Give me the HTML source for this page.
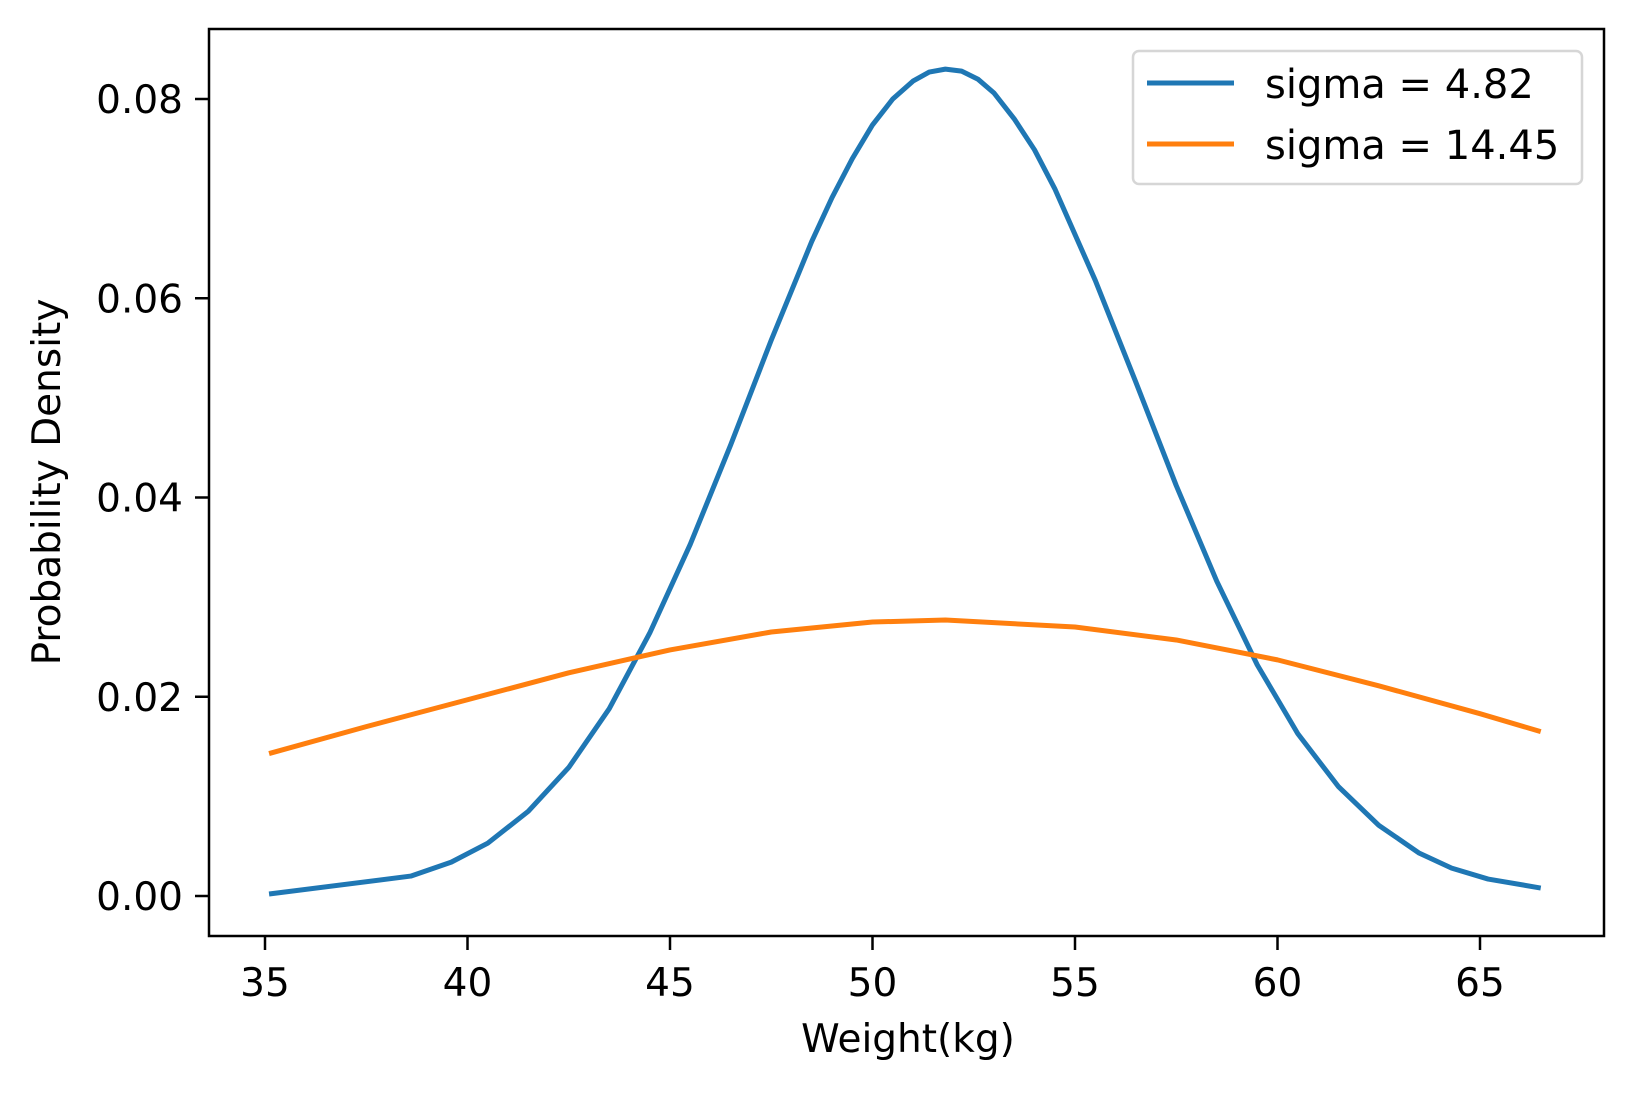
<!DOCTYPE html>
<html><head><meta charset="utf-8"><style>
html,body{margin:0;padding:0;background:#fff}
svg text{font-family:"DejaVu Sans","Liberation Sans",sans-serif;fill:#000}
</style></head><body>
<svg id="chart" width="1633" height="1091" viewBox="0 0 1633 1091" xmlns="http://www.w3.org/2000/svg">
<rect width="1633" height="1091" fill="#fff"/>
<g id="plot"></g>
<rect x="209" y="29" width="1395" height="907" fill="none" stroke="#000" stroke-width="2.5"/>
<g id="ticks"></g>
<text x="908" y="1052" font-size="39" text-anchor="middle">Weight(kg)</text>
<text x="60" y="482" font-size="39" text-anchor="middle" transform="rotate(-90 60 482)">Probability Density</text>
<g>
<rect x="1133" y="51" width="449" height="133" rx="6" fill="#fff" fill-opacity="0.8" stroke="#d6d6d6" stroke-width="2.5"/>
<line x1="1147" y1="83" x2="1234" y2="83" stroke="#1f77b4" stroke-width="5"/>
<text x="1265" y="98" font-size="40">sigma = 4.82</text>
<line x1="1147" y1="144" x2="1234" y2="144" stroke="#ff7f0e" stroke-width="5"/>
<text x="1265" y="159" font-size="40">sigma = 14.45</text>
</g>
</svg>
<script>
const blueX=[35.1,38.6,39.6,40.5,41.5,42.5,43.5,44.5,45.5,46.5,47.5,48.5,49.0,49.5,50.0,50.5,51.0,51.4,51.8,52.2,52.6,53.0,53.5,54.0,54.5,55.5,56.5,57.5,58.5,59.5,60.5,61.5,62.5,63.5,64.3,65.2,66.5];
const blueY=[0.0002,0.002,0.0034,0.0053,0.0085,0.0129,0.0188,0.0264,0.0353,0.0453,0.0558,0.0657,0.0701,0.0740,0.0774,0.0800,0.0818,0.0827,0.0830,0.0828,0.0820,0.0806,0.0780,0.0749,0.0710,0.0618,0.0516,0.0412,0.0316,0.0232,0.0163,0.0110,0.0071,0.0043,0.0028,0.0017,0.0008];
const orangeX=[35.1,37.5,40,42.5,45,47.5,50,51.8,55,57.5,60,62.5,65,66.5];
const orangeY=[0.0143,0.017,0.0197,0.0224,0.0247,0.0265,0.0275,0.0277,0.0270,0.0257,0.0237,0.0211,0.0183,0.0165];
const xTicks=[35,40,45,50,55,60,65];
const yTicks=[0,0.02,0.04,0.06,0.08];
const yTickLabels=["0.00","0.02","0.04","0.06","0.08"];
const NS="http://www.w3.org/2000/svg";
function xs(v){return 265+(v-35)*40.5;}
function ys(v){return 896-v*9962.5;}
const plot=document.getElementById('plot');
function line(X,Y,color,name){
  const p=document.createElementNS(NS,'polyline');
  p.setAttribute('points',X.map((x,i)=>xs(x)+','+ys(Y[i])).join(' '));
  p.setAttribute('fill','none');p.setAttribute('stroke',color);p.setAttribute('stroke-width','5');
  p.setAttribute('stroke-linejoin','round');
  
  
  plot.appendChild(p);
}
line(blueX,blueY,'#1f77b4','line-sigma-4-82');
line(orangeX,orangeY,'#ff7f0e','line-sigma-14-45');
const tg=document.getElementById('ticks');
xTicks.forEach(v=>{
  const l=document.createElementNS(NS,'line');
  l.setAttribute('x1',xs(v));l.setAttribute('x2',xs(v));l.setAttribute('y1',936);l.setAttribute('y2',950);
  l.setAttribute('stroke','#000');l.setAttribute('stroke-width','2.5');
  
  
  tg.appendChild(l);
  const t=document.createElementNS(NS,'text');
  t.setAttribute('x',xs(v));t.setAttribute('y',996);t.setAttribute('font-size','39');t.setAttribute('text-anchor','middle');
  t.textContent=String(v);
  
  
  tg.appendChild(t);
});
yTicks.forEach((v,i)=>{
  const l=document.createElementNS(NS,'line');
  l.setAttribute('x1',195);l.setAttribute('x2',209);l.setAttribute('y1',ys(v));l.setAttribute('y2',ys(v));
  l.setAttribute('stroke','#000');l.setAttribute('stroke-width','2.5');
  
  
  tg.appendChild(l);
  const t=document.createElementNS(NS,'text');
  t.setAttribute('x',183);t.setAttribute('y',ys(v)+14);t.setAttribute('font-size','39');t.setAttribute('text-anchor','end');
  t.textContent=yTickLabels[i];
  
  
  tg.appendChild(t);
});
</script>
</body></html>
